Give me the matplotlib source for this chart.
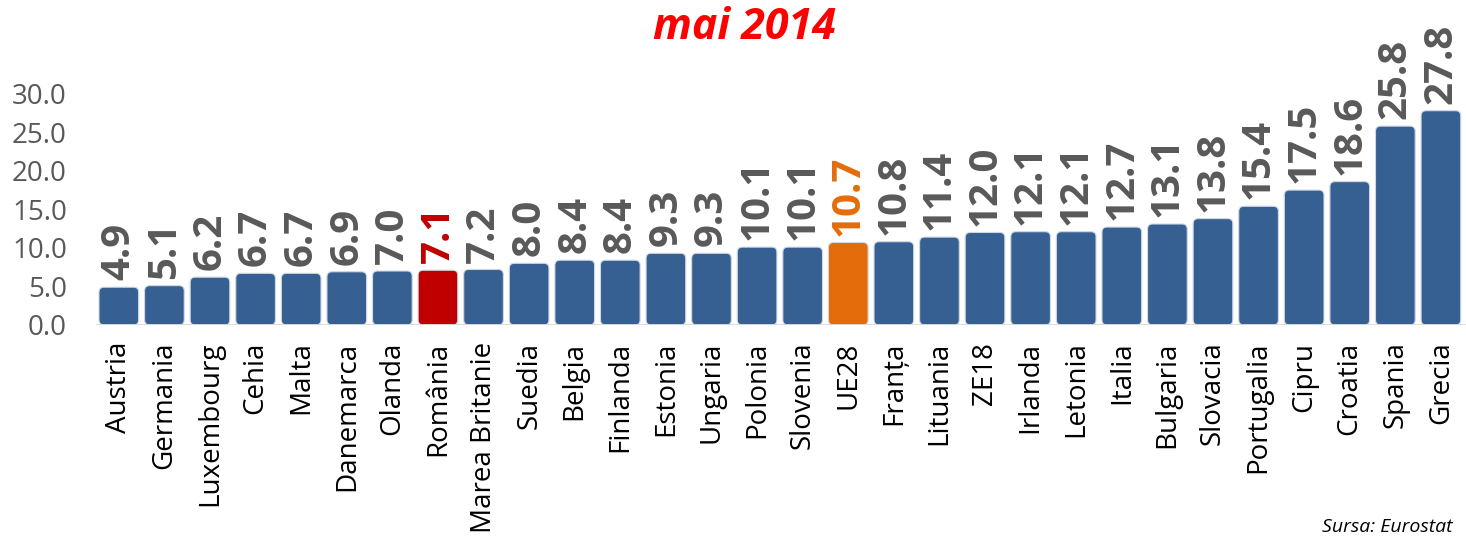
import matplotlib
matplotlib.use('Agg')
import matplotlib.pyplot as plt
from matplotlib.patches import FancyBboxPatch


tari = ['Austria', 'Germania', 'Luxembourg', 'Cehia', 'Malta', 'Danemarca',
        'Olanda', 'România', 'Marea Britanie', 'Suedia', 'Belgia', 'Finlanda',
        'Estonia', 'Ungaria', 'Polonia', 'Slovenia', 'UE28', 'Franța',
        'Lituania', 'ZE18', 'Irlanda', 'Letonia', 'Italia', 'Bulgaria',
        'Slovacia', 'Portugalia', 'Cipru', 'Croatia', 'Spania', 'Grecia']
rata_somaj = [4.9, 5.1, 6.2, 6.7, 6.7, 6.9, 7.0, 7.1, 7.2, 8.0, 8.4, 8.4,
              9.3, 9.3, 10.1, 10.1, 10.7, 10.8, 11.4, 12.0, 12.1, 12.1,
              12.7, 13.1, 13.8, 15.4, 17.5, 18.6, 25.8, 27.8]
y_ticks = [0, 5, 10, 15, 20, 25, 30]

ALBASTRU = '#376092'
ROSU = '#C00000'
PORTOCALIU = '#E46C0A'
GRI = '#595959'

plt.rcParams['font.family'] = ['Open Sans', 'DejaVu Sans']

fig = plt.figure(figsize=(14.66, 5.38), dpi=100)
ax = fig.add_axes([0.0655, 0.396, 0.9345, 0.53])

# culori: Romania rosu, UE28 portocaliu
culori = []
for t in tari:
    if t == 'România':
        culori.append(ROSU)
    elif t == 'UE28':
        culori.append(PORTOCALIU)
    else:
        culori.append(ALBASTRU)

x = list(range(len(tari)))
bare = ax.bar(x, rata_somaj, width=0.87, color=culori)

ax.set_xlim(-0.5, len(tari) - 0.45)
ax.set_ylim(0, 37)

# colturi rotunjite
for b in bare:
    b.set_visible(False)
    p = FancyBboxPatch((b.get_x(), b.get_y()), b.get_width(), b.get_height(),
                       boxstyle='round,pad=0,rounding_size=0.11',
                       mutation_aspect=6.0, facecolor=b.get_facecolor(),
                       edgecolor='#D0D8E4', linewidth=0.8)
    ax.add_patch(p)

# etichete valori
for i, v in enumerate(rata_somaj):
    c = GRI
    if tari[i] == 'România':
        c = ROSU
    elif tari[i] == 'UE28':
        c = PORTOCALIU
    ax.annotate('%.1f' % v, (i, v), xytext=(0, 5), textcoords='offset points',
                rotation=90, ha='center', va='bottom', fontsize=29,
                fontweight='bold', color=c, annotation_clip=False)

ax.axhline(0, color='#D9D9D9', linewidth=2, zorder=5)

ax.set_yticks(y_ticks)
ax.set_yticklabels(['%.1f' % t for t in y_ticks], fontsize=20, color=GRI)
ax.set_xticks(x)
ax.set_xticklabels(tari, rotation=90, fontsize=20, color='black')
ax.tick_params(axis='both', length=0)
ax.tick_params(axis='x', pad=12)
ax.tick_params(axis='y', pad=21)
for s in ax.spines.values():
    s.set_visible(False)

fig.text(0.508, 0.948, 'mai 2014', ha='center', va='center', fontsize=31,
         fontweight='bold', fontstyle='italic', color='#FF0000')
fig.text(0.902, 0.003, 'Sursa: Eurostat', ha='left', va='bottom',
         fontsize=14, fontstyle='italic', color='black')

fig.savefig('out.png', dpi=100)
